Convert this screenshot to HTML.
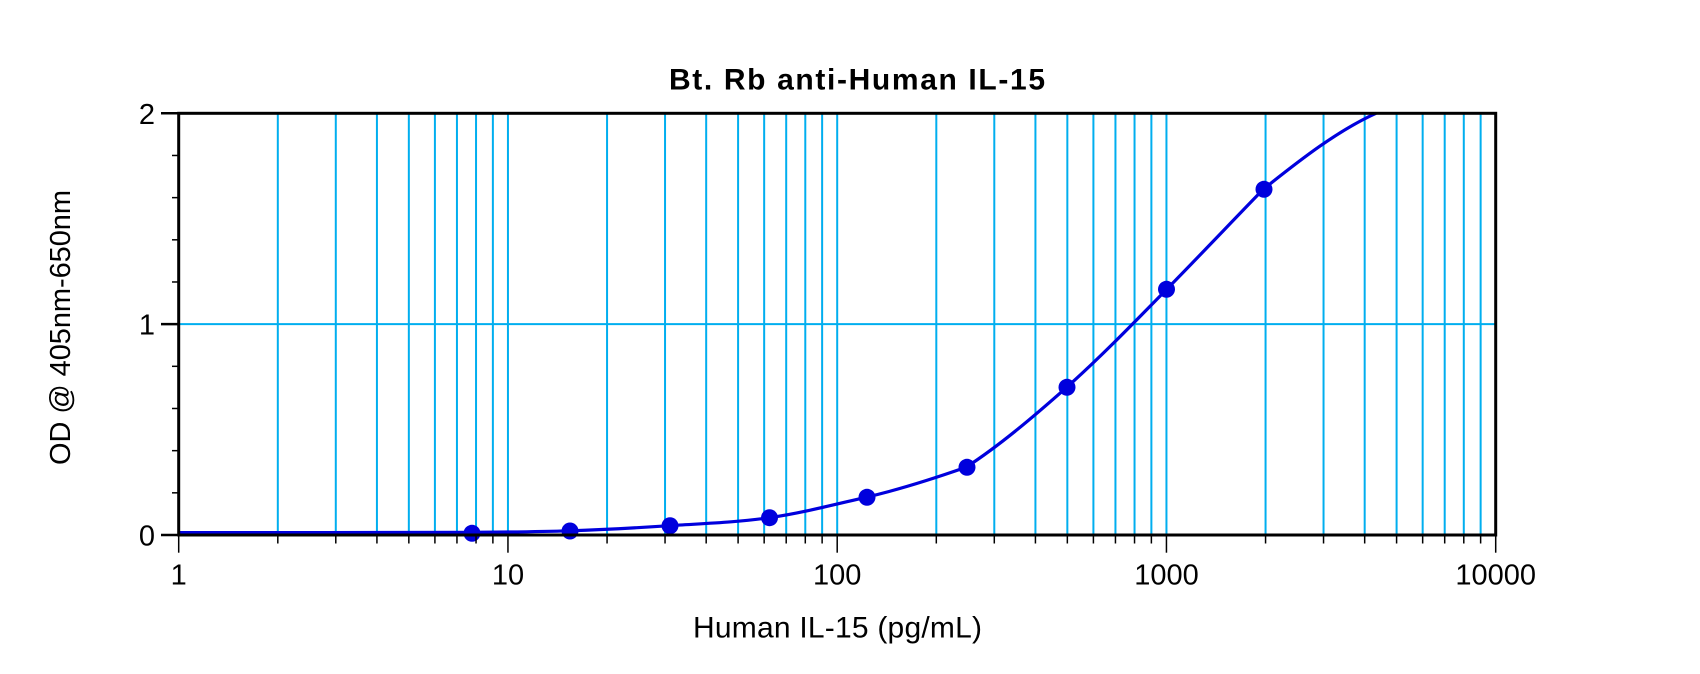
<!DOCTYPE html>
<html>
<head>
<meta charset="utf-8">
<style>
  html, body { margin: 0; padding: 0; background: #ffffff; }
  body { width: 1700px; height: 674px; overflow: hidden; }
  svg { display: block; }
  text { font-family: "Liberation Sans", Arial, sans-serif; fill: #000; }
</style>
</head>
<body>
<svg width="1700" height="674" viewBox="0 0 1700 674" xmlns="http://www.w3.org/2000/svg">
  <rect x="0" y="0" width="1700" height="674" fill="#ffffff"/>

  <!-- Title -->
  <text x="857" y="89.3" font-size="30" font-weight="bold" text-anchor="middle" textLength="376" lengthAdjust="spacing">Bt. Rb anti-Human IL-15</text>

  <!-- vertical grid lines -->
  <g stroke="#00AEEF" stroke-width="2">
    <line x1="277.81" y1="113.3" x2="277.81" y2="535"/>
    <line x1="335.79" y1="113.3" x2="335.79" y2="535"/>
    <line x1="376.93" y1="113.3" x2="376.93" y2="535"/>
    <line x1="408.84" y1="113.3" x2="408.84" y2="535"/>
    <line x1="434.91" y1="113.3" x2="434.91" y2="535"/>
    <line x1="456.95" y1="113.3" x2="456.95" y2="535"/>
    <line x1="476.04" y1="113.3" x2="476.04" y2="535"/>
    <line x1="492.88" y1="113.3" x2="492.88" y2="535"/>
    <line x1="507.95" y1="113.3" x2="507.95" y2="535"/>
    <line x1="607.06" y1="113.3" x2="607.06" y2="535"/>
    <line x1="665.04" y1="113.3" x2="665.04" y2="535"/>
    <line x1="706.18" y1="113.3" x2="706.18" y2="535"/>
    <line x1="738.09" y1="113.3" x2="738.09" y2="535"/>
    <line x1="764.16" y1="113.3" x2="764.16" y2="535"/>
    <line x1="786.2" y1="113.3" x2="786.2" y2="535"/>
    <line x1="805.29" y1="113.3" x2="805.29" y2="535"/>
    <line x1="822.13" y1="113.3" x2="822.13" y2="535"/>
    <line x1="837.2" y1="113.3" x2="837.2" y2="535"/>
    <line x1="936.31" y1="113.3" x2="936.31" y2="535"/>
    <line x1="994.29" y1="113.3" x2="994.29" y2="535"/>
    <line x1="1035.43" y1="113.3" x2="1035.43" y2="535"/>
    <line x1="1067.34" y1="113.3" x2="1067.34" y2="535"/>
    <line x1="1093.41" y1="113.3" x2="1093.41" y2="535"/>
    <line x1="1115.45" y1="113.3" x2="1115.45" y2="535"/>
    <line x1="1134.54" y1="113.3" x2="1134.54" y2="535"/>
    <line x1="1151.38" y1="113.3" x2="1151.38" y2="535"/>
    <line x1="1166.45" y1="113.3" x2="1166.45" y2="535"/>
    <line x1="1265.56" y1="113.3" x2="1265.56" y2="535"/>
    <line x1="1323.54" y1="113.3" x2="1323.54" y2="535"/>
    <line x1="1364.68" y1="113.3" x2="1364.68" y2="535"/>
    <line x1="1396.59" y1="113.3" x2="1396.59" y2="535"/>
    <line x1="1422.66" y1="113.3" x2="1422.66" y2="535"/>
    <line x1="1444.7" y1="113.3" x2="1444.7" y2="535"/>
    <line x1="1463.79" y1="113.3" x2="1463.79" y2="535"/>
    <line x1="1480.63" y1="113.3" x2="1480.63" y2="535"/>
    <!-- horizontal grid at OD 1 -->
    <line x1="178.7" y1="324.15" x2="1495.7" y2="324.15"/>
  </g>

  <!-- curve -->
  <path fill="none" stroke="#0000DD" stroke-width="3.2" stroke-linejoin="round"
    d="M178.7,532.6
       C276.5,532.55 374.2,532.7 472,532.3
       C504.4,532.04 536.9,531.89 569.3,530.8
       C602.6,529.68 636,527.88 669.3,525.7
       C702.6,523.52 736,522.5 769.3,517.7
       C801.5,513.06 833.8,504.7 866,497.3
       C899.3,489.63 932.7,478.97 966,467.3
       C999.6,445.48 1033.1,417.08 1066.7,387.3
       C1100,357.73 1133.4,323.3 1166.7,289.3
       C1198.9,256.46 1231.1,222.47 1263.3,189.3
       C1300.9,159.24 1338.4,130.21 1376,113.3"/>

  <!-- markers -->
  <g fill="#0000DD">
    <circle cx="472" cy="533.3" r="8.5"/>
    <circle cx="570" cy="531" r="8.5"/>
    <circle cx="670" cy="525.7" r="8.5"/>
    <circle cx="769.5" cy="517.7" r="8.5"/>
    <circle cx="867" cy="497.3" r="8.5"/>
    <circle cx="967" cy="467.3" r="8.5"/>
    <circle cx="1067" cy="387.3" r="8.5"/>
    <circle cx="1166.5" cy="289.3" r="8.5"/>
    <circle cx="1264" cy="189.3" r="8.5"/>
  </g>

  <!-- axes box -->
  <rect x="178.7" y="113.3" width="1317" height="421.7" fill="none" stroke="#000" stroke-width="3"/>

  <!-- y ticks -->
  <g stroke="#000" stroke-width="1.5">
    <line x1="161" y1="535" x2="178.7" y2="535" stroke-width="2.5"/>
    <line x1="161" y1="324.15" x2="178.7" y2="324.15" stroke-width="2.5"/>
    <line x1="161" y1="113.3" x2="178.7" y2="113.3" stroke-width="2.5"/>
    <line x1="172" y1="492.83" x2="178.7" y2="492.83"/>
    <line x1="172" y1="450.66" x2="178.7" y2="450.66"/>
    <line x1="172" y1="408.49" x2="178.7" y2="408.49"/>
    <line x1="172" y1="366.32" x2="178.7" y2="366.32"/>
    <line x1="172" y1="281.98" x2="178.7" y2="281.98"/>
    <line x1="172" y1="239.81" x2="178.7" y2="239.81"/>
    <line x1="172" y1="197.64" x2="178.7" y2="197.64"/>
    <line x1="172" y1="155.47" x2="178.7" y2="155.47"/>
  </g>

  <!-- x ticks -->
  <g stroke="#000" stroke-width="1.5">
    <line x1="178.7" y1="535" x2="178.7" y2="552.7"/>
    <line x1="507.95" y1="535" x2="507.95" y2="552.7"/>
    <line x1="837.2" y1="535" x2="837.2" y2="552.7"/>
    <line x1="1166.45" y1="535" x2="1166.45" y2="552.7"/>
    <line x1="1495.7" y1="535" x2="1495.7" y2="552.7"/>
    <line x1="277.81" y1="535" x2="277.81" y2="543.5"/>
    <line x1="335.79" y1="535" x2="335.79" y2="543.5"/>
    <line x1="376.93" y1="535" x2="376.93" y2="543.5"/>
    <line x1="408.84" y1="535" x2="408.84" y2="543.5"/>
    <line x1="434.91" y1="535" x2="434.91" y2="543.5"/>
    <line x1="456.95" y1="535" x2="456.95" y2="543.5"/>
    <line x1="476.04" y1="535" x2="476.04" y2="543.5"/>
    <line x1="492.88" y1="535" x2="492.88" y2="543.5"/>
    <line x1="607.06" y1="535" x2="607.06" y2="543.5"/>
    <line x1="665.04" y1="535" x2="665.04" y2="543.5"/>
    <line x1="706.18" y1="535" x2="706.18" y2="543.5"/>
    <line x1="738.09" y1="535" x2="738.09" y2="543.5"/>
    <line x1="764.16" y1="535" x2="764.16" y2="543.5"/>
    <line x1="786.2" y1="535" x2="786.2" y2="543.5"/>
    <line x1="805.29" y1="535" x2="805.29" y2="543.5"/>
    <line x1="822.13" y1="535" x2="822.13" y2="543.5"/>
    <line x1="936.31" y1="535" x2="936.31" y2="543.5"/>
    <line x1="994.29" y1="535" x2="994.29" y2="543.5"/>
    <line x1="1035.43" y1="535" x2="1035.43" y2="543.5"/>
    <line x1="1067.34" y1="535" x2="1067.34" y2="543.5"/>
    <line x1="1093.41" y1="535" x2="1093.41" y2="543.5"/>
    <line x1="1115.45" y1="535" x2="1115.45" y2="543.5"/>
    <line x1="1134.54" y1="535" x2="1134.54" y2="543.5"/>
    <line x1="1151.38" y1="535" x2="1151.38" y2="543.5"/>
    <line x1="1265.56" y1="535" x2="1265.56" y2="543.5"/>
    <line x1="1323.54" y1="535" x2="1323.54" y2="543.5"/>
    <line x1="1364.68" y1="535" x2="1364.68" y2="543.5"/>
    <line x1="1396.59" y1="535" x2="1396.59" y2="543.5"/>
    <line x1="1422.66" y1="535" x2="1422.66" y2="543.5"/>
    <line x1="1444.7" y1="535" x2="1444.7" y2="543.5"/>
    <line x1="1463.79" y1="535" x2="1463.79" y2="543.5"/>
    <line x1="1480.63" y1="535" x2="1480.63" y2="543.5"/>
  </g>

  <!-- y tick labels -->
  <g font-size="29" text-anchor="end">
    <text x="155" y="545.5">0</text>
    <text x="155" y="334.5">1</text>
    <text x="155" y="123.8">2</text>
  </g>

  <!-- x tick labels -->
  <g font-size="29" text-anchor="middle">
    <text x="178.7" y="584.5">1</text>
    <text x="507.95" y="584.5">10</text>
    <text x="837.2" y="584.5">100</text>
    <text x="1166.45" y="584.5">1000</text>
    <text x="1495.7" y="584.5">10000</text>
  </g>

  <!-- axis titles -->
  <text x="837.5" y="637.5" font-size="30" text-anchor="middle" textLength="289" lengthAdjust="spacing">Human IL-15 (pg/mL)</text>
  <text transform="translate(70,327.5) rotate(-90)" font-size="29" text-anchor="middle" textLength="275" lengthAdjust="spacing">OD @ 405nm-650nm</text>
</svg>
</body>
</html>
